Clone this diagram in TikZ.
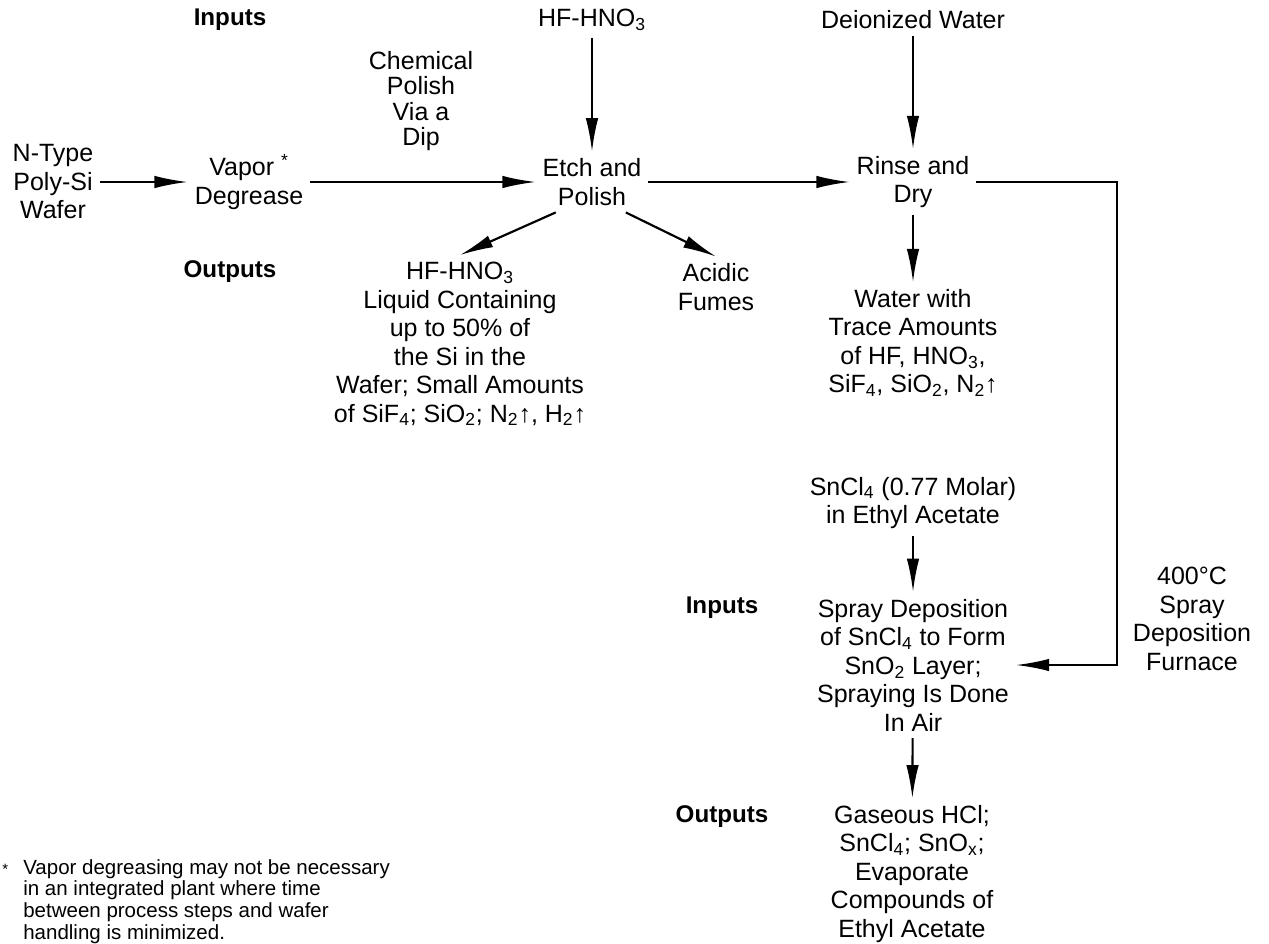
\documentclass[tikz,border=0pt]{standalone}
\usepackage{fontspec}
\setmainfont{Liberation Sans}
\usetikzlibrary{arrows.meta}
\newcommand{\subs}[1]{\textsubscript{#1}}
\newcommand{\gasup}{↑}
\tikzset{every node/.style={font=\fontsize{15}{17.1}\selectfont,align=center,inner sep=4pt},
  side/.style={font=\fontsize{14.5}{17.1}\selectfont\bfseries},
  footnote/.style={font=\fontsize{12.3}{13}\selectfont,align=left,inner sep=0pt,anchor=north west},
  flow/.style={line width=1.3pt,-{Latex[length=20pt,width=7.5pt]}}}

\begin{document}
\begin{tikzpicture}[x=0.6pt,y=-0.6pt]
  \path[use as bounding box] (0,0) rectangle (1269,943);
  % side headings
  \node[side] (inA) at (230,20) {Inputs};
  \node[side] (outA) at (230,272) {Outputs};
  \node[side] (inB) at (722,608) {Inputs};
  \node[side] (outB) at (722,817) {Outputs};
  % process steps
  \node (wafer) at (53,182) {N-Type\\Poly-Si\\Wafer};
  \node (vapor) at (249,182) {Vapor \textsuperscript{*}\\Degrease};
  \node (etch) at (592,182) {Etch and\\Polish};
  \node (rinse) at (913,182) {Rinse and\\Dry};
  \node (spray) at (913,665) {Spray Deposition\\of SnCl\subs{4} to Form\\SnO\subs{2} Layer;\\Spraying Is Done\\In Air};
  % inputs
  \node (hf) at (592,20) {HF-HNO\subs{3}};
  \node (diw) at (913,20) {Deionized Water};
  \node (sncl) at (913,503) {SnCl\subs{4} (0.77 Molar)\\in Ethyl Acetate};
  % outputs
  \node (hfout) at (460,344) {HF-HNO\subs{3}\\Liquid Containing\\up to 50\% of\\the Si in the\\Wafer; Small Amounts\\of SiF\subs{4}; SiO\subs{2}; N\subs{2}\gasup, H\subs{2}\gasup};
  \node (fumes) at (716,287) {Acidic\\Fumes};
  \node (water) at (913,343) {Water with\\Trace Amounts\\of HF, HNO\subs{3},\\SiF\subs{4}, SiO\subs{2}, N\subs{2}\gasup};
  \node (gas) at (912,874) {Gaseous HCl;\\SnCl\subs{4}; SnO\subs{x};\\Evaporate\\Compounds of\\Ethyl Acetate};
  % notes
  \node[font=\fontsize{15}{15.3}\selectfont] (dip) at (421,101) {Chemical\\Polish\\Via a\\Dip};
  \node (furnace) at (1192,619) {400°C\\Spray\\Deposition\\Furnace};
  \node[footnote] (note) at (23,859) {\llap{{\small *}\hspace{9pt}}Vapor degreasing may not be necessary\\in an integrated plant where time\\between process steps and wafer\\handling is minimized.};
  \coordinate (bend) at (1117,182);
  % flows
  \draw[flow] (wafer.east) -- (vapor.west);
  \draw[flow] (vapor.east) -- (etch.west);
  \draw[flow] (etch.east) -- (rinse.west);
  \draw[flow] (hf) -- (etch);
  \draw[flow] (diw) -- (rinse);
  \draw[flow] (etch.220) -- (hfout.north);
  \draw[flow] (etch.318) -- (fumes.north);
  \draw[flow] (rinse) -- (water);
  \draw[flow] (rinse.east) -- (bend) |- (spray.east);
  \draw[flow] (sncl) -- (spray);
  \draw[flow] (spray) -- (gas);
\end{tikzpicture}
\end{document}
